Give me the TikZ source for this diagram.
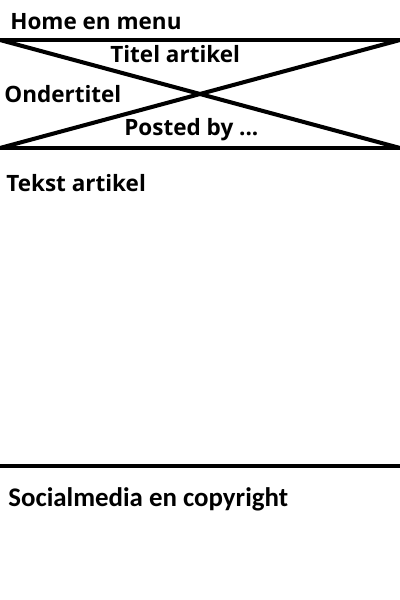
\documentclass[tikz,border=0pt]{standalone}
\usepackage{fontspec}
\setmainfont{Carlito}
\newfontfamily\headfont{Open Sans}
\usetikzlibrary{positioning}

\begin{document}
\begin{tikzpicture}[
  rule/.style={line width=2.3pt},
  lbl/.style={anchor=west,inner sep=0pt,font=\headfont\fontsize{12.8}{15}\selectfont\bfseries},
  foot/.style={anchor=west,inner sep=0pt,font=\fontsize{15.3}{18}\selectfont\bfseries}
]
\useasboundingbox (0,0) rectangle (8,12);

% header box
\coordinate (tl) at (0,11.2);
\coordinate (tr) at (8,11.2);
\coordinate (bl) at (0,9.04);
\coordinate (br) at (8,9.04);
\coordinate (fl) at (0,2.68);
\coordinate (fr) at (8,2.68);

\draw[rule] (tl) -- (tr);
\draw[rule] (bl) -- (br);
\draw[rule] (tl) -- (br);
\draw[rule] (bl) -- (tr);
\draw[rule] (fl) -- (fr);

\node[lbl] (home) at (0.2,11.56) {Home en menu};
\node[lbl] (titel) at (2.2,10.92) {Titel artikel};
\node[lbl] (onder) at (0.08,10.12) {Ondertitel};
\node[lbl] (posted) at (2.48,9.4) {Posted by ...};
\node[lbl] (tekst) at (0.12,8.34) {Tekst artikel};
\node[foot] (social) at (0.16,2.02) {Socialmedia en copyright};

\end{tikzpicture}
\end{document}
